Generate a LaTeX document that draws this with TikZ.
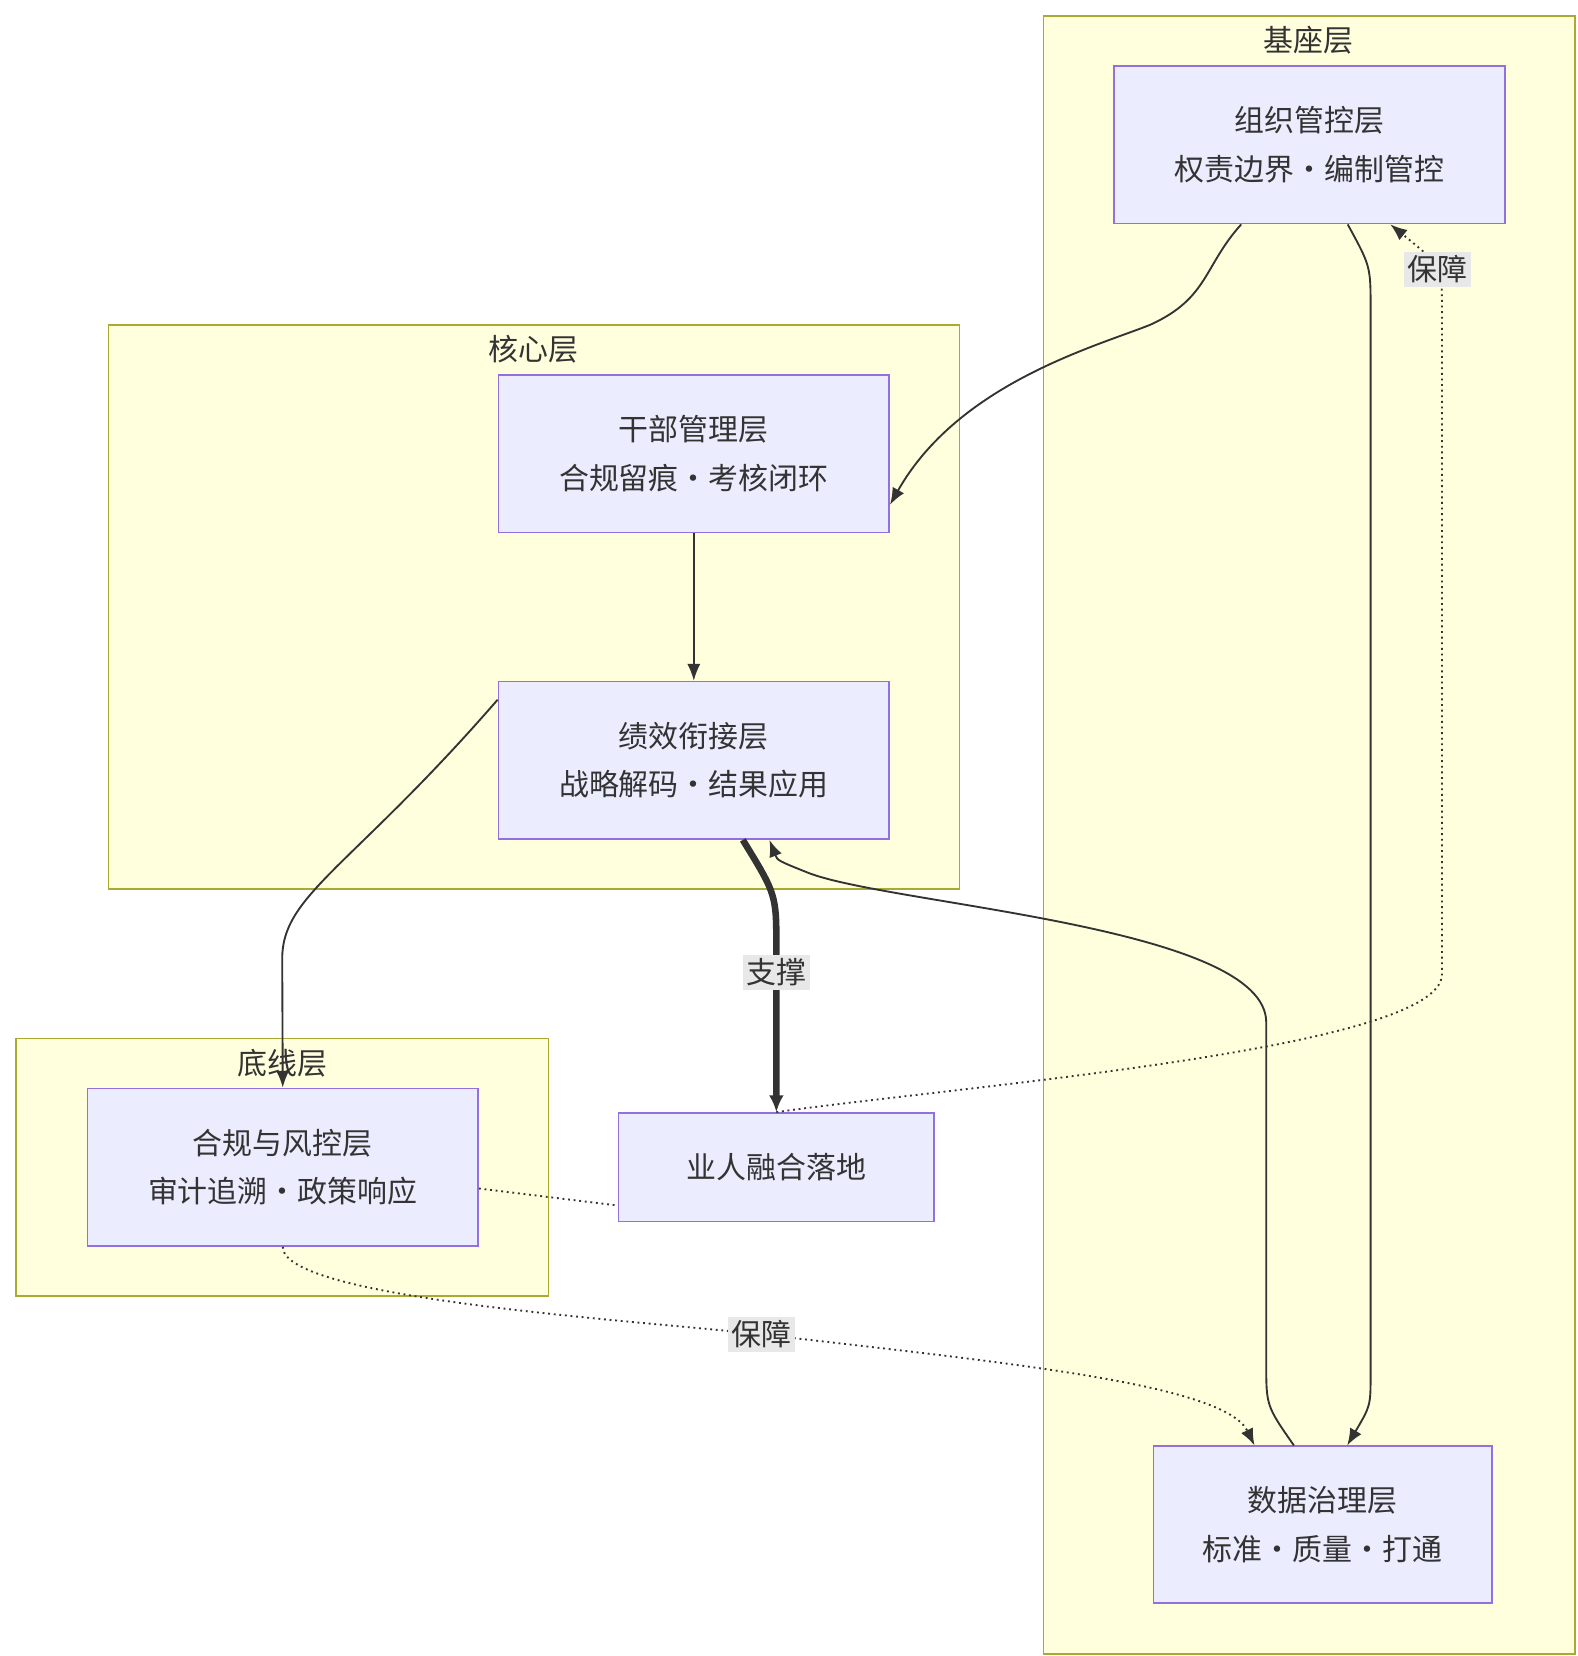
\documentclass[tikz,border=0pt]{standalone}
\usepackage{fontspec}
\setmainfont{Noto Sans CJK SC}
\usepackage{tikz}
\usetikzlibrary{arrows.meta}
\usepackage{xcolor}
\definecolor{boxfill}{HTML}{ECECFF}
\definecolor{boxline}{HTML}{9370DB}
\definecolor{grpfill}{HTML}{FFFFDE}
\definecolor{grpline}{HTML}{AAAA33}
\definecolor{lblfill}{HTML}{E8E8E8}
\definecolor{ink}{HTML}{333333}

\begin{document}
\begin{tikzpicture}[x=0.02cm,y=-0.02cm]

        \tikzset{
            layer/.style={draw=boxline, fill=boxfill, line width=0.8pt, align=center, text=ink,
                          minimum width=367*0.02cm, minimum height=148*0.02cm, font=\fontsize{16}{26}\selectfont},
            group/.style={draw=grpline, fill=grpfill, line width=0.8pt},
            title/.style={text=ink, font=\fontsize{16}{20}\selectfont},
            flow/.style={draw=ink, line width=1pt, -{Latex[length=9pt,width=7pt]}},
            guard/.style={flow, dotted},
            tag/.style={fill=lblfill, text=ink, inner sep=2pt, font=\fontsize{16}{20}\selectfont}
        }

        \useasboundingbox (0,0) rectangle (1481,1555);

        \draw[group] (980, 15) rectangle (1479, 1553);
        \draw[group] (102, 305) rectangle (901, 835);
        \draw[group] (15, 975) rectangle (515, 1217);

        \node[title] (baseT) at (1229, 38) {基座层};
        \node[title] (coreT) at (501, 328) {核心层};
        \node[title] (lineT) at (265, 998) {底线层};

        \node[layer] (org) at (1229.5, 136) {组织管控层\\权责边界·编制管控};
        \node[layer] (cadre) at (651.5, 426) {干部管理层\\合规留痕·考核闭环};
        \node[layer] (perf) at (651.5, 714) {绩效衔接层\\战略解码·结果应用};
        \node[layer] (comp) at (265.5, 1096) {合规与风控层\\审计追溯·政策响应};
        \node[layer, minimum width=296*0.02cm, minimum height=102*0.02cm] (biz) at (729, 1096) {业人融合落地};
        \node[layer, minimum width=318*0.02cm, minimum height=147*0.02cm] (data) at (1242, 1431.5) {数据治理层\\标准·质量·打通};

        \draw[flow] ([xshift=-64*0.02cm]org.south) .. controls (1130, 250) and (1135, 280) .. (1080, 305)
            .. controls (1030, 325) and (900, 360) .. ([yshift=-48*0.02cm]cadre.east);
        \draw[flow] ([xshift=36*0.02cm]org.south) .. controls (1287, 250) .. (1287, 290)
            -- (1287, 1290) .. controls (1287, 1320) .. ([xshift=23*0.02cm]data.north);
        \draw[flow] (cadre) -- (perf);
        \draw[flow] ([yshift=57*0.02cm]perf.west) .. controls (330, 815) and (265, 840) .. (265, 900)
            -- (comp.north);
        \draw[flow, line width=3.5pt, -{Latex[length=9pt,width=8pt]}] ([xshift=46*0.02cm]perf.south)
            .. controls (729, 840) .. (729, 890) -- (biz.north)
            node[tag, pos=0.15, line width=0pt] (supT) {支撑};
        \draw[flow] ([xshift=-27*0.02cm]data.north) .. controls (1189, 1320) .. (1189, 1280)
            -- (1189, 960) .. controls (1189, 870) and (840, 850) .. (760, 820)
            .. controls (730, 808) .. ([xshift=71*0.02cm]perf.south);
        \draw[guard] (biz.north) .. controls (900, 1020) and (1354, 985) .. (1354, 915)
            -- (1354, 290) .. controls (1354, 250) .. ([xshift=76*0.02cm]org.south)
            node[tag, pos=0.45] (guardT1) {保障};
        \draw[ink, line width=1pt, dotted] ([yshift=-20*0.02cm]comp.east) -- ([yshift=-36*0.02cm]biz.west);
        \draw[guard] (comp.south) .. controls (265, 1220) and (600, 1240) .. (715, 1253)
            node[tag] (guardT2) {保障}
            .. controls (950, 1280) and (1150, 1300) .. ([xshift=-64*0.02cm]data.north);

    \end{tikzpicture}
\end{document}
